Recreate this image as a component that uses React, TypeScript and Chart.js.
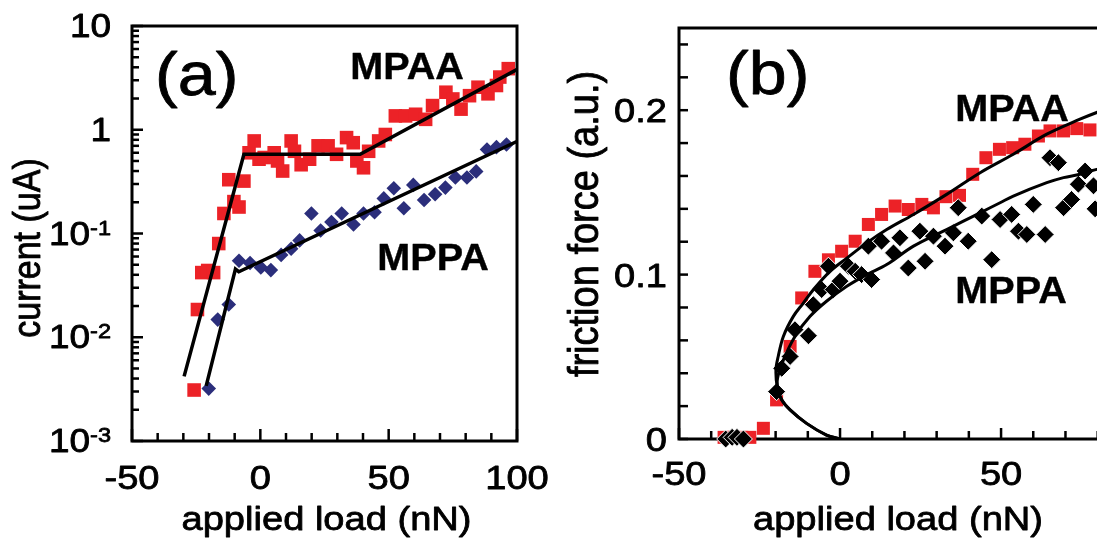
import React, { useEffect, useRef } from 'react';
import { Chart, registerables } from 'chart.js';

Chart.register(...registerables);

const SANS = '"Liberation Sans", Arial, Helvetica, sans-serif';
const SX = 1.12;
const RED = '#ec2227';
const NAVY = '#2b2e7b';

// ---------- Panel (a): current vs applied load ----------
const aMpaaX = [-25.8, -24.5, -22.8, -20.5, -18.2, -16.2, -14.2, -12.3, -10.3, -8.3, -6.4, -4.4, -2.4, -0.5, 1.5, 5.4, 6.7, 8.7, 12.0, 13.3, 15.9, 19.2, 22.5, 26.4, 29.7, 33.6, 36.2, 37.6, 40.2, 42.2, 46.1, 48.7, 52.6, 56.6, 60.5, 64.4, 67.1, 72.3, 75.0, 78.2, 81.5, 84.8, 88.7, 92.0, 93.3, 96.6];
const aMpaaY = [0.0031, 0.0185, 0.042, 0.044, 0.042, 0.08, 0.156, 0.33, 0.203, 0.18, 0.32, 0.6, 0.78, 0.52, 0.54, 0.6, 0.5, 0.4, 0.78, 0.62, 0.46, 0.52, 0.7, 0.7, 0.58, 0.84, 0.75, 0.5, 0.43, 0.62, 0.78, 0.9, 1.36, 1.36, 1.41, 1.26, 1.71, 2.3, 1.98, 1.58, 2.13, 2.57, 2.22, 2.67, 3.22, 3.88];
const aMppaX = [-20.1, -16.6, -12.3, -8.3, -4.0, 0.2, 4.1, 8.1, 12.0, 15.3, 19.9, 23.5, 27.7, 31.7, 36.3, 40.2, 44.5, 48.1, 52.0, 55.9, 59.6, 63.8, 68.1, 72.1, 76.0, 80.5, 84.1, 88.3, 92.0, 95.9];
const aMppaY = [0.0032, 0.0148, 0.0207, 0.0547, 0.052, 0.047, 0.0444, 0.0622, 0.0712, 0.0858, 0.156, 0.107, 0.129, 0.156, 0.122, 0.156, 0.16, 0.218, 0.273, 0.175, 0.294, 0.21, 0.239, 0.277, 0.347, 0.347, 0.397, 0.645, 0.68, 0.72];
const aMpaaFitX = [-29.7, -6.4, 38.9, 99.9];
const aMpaaFitY = [0.0042, 0.58, 0.58, 3.8];
const aMppaFitX = [-21.1, -9.7, -8.4, 99.9];
const aMppaFitY = [0.0034, 0.0454, 0.0428, 0.77];
const aXTickLabels = [-50, 0, 50, 100];
const aYTickValues = [0.001, 0.01, 0.1, 1, 10];
const aYTickBase = ['10', '10', '10', '1', '10'];
const aYTickExp = ['-3', '-2', '-1', '', ''];

// ---------- Panel (b): friction force vs applied load ----------
const bMpaaX = [-36, -33, -30.5, -28, -23.8, -19.7, -15.5, -11.9, -7.8, -3.6, 0.5, 4.7, 8.8, 12.9, 17.1, 21.2, 25.4, 29.0, 32.9, 37.1, 41.2, 45.3, 49.5, 53.6, 57.4, 61.6, 65.2, 69.4, 73.5, 77.6];
const bMpaaY = [0.001, 0.001, 0.001, 0.001, 0.0065, 0.0238, 0.0563, 0.0858, 0.102, 0.109, 0.1142, 0.1203, 0.1305, 0.1366, 0.1417, 0.1396, 0.1427, 0.1406, 0.1474, 0.1482, 0.161, 0.1711, 0.1762, 0.1772, 0.1793, 0.1843, 0.1874, 0.1874, 0.1888, 0.188];
const bMppaX = [-35.5, -33.5, -32, -30, -19.7, -18.1, -15.5, -14.0, -9.8, -8.3, -5.7, -3.6, -2.1, 0, 2.6, 4.7, 6.7, 9.8, 8.8, 12.9, 16.6, 18.6, 21.2, 26.4, 24.8, 29.0, 32.6, 35.2, 36.7, 39.8, 44.0, 47.1, 49.7, 53.3, 55.4, 58.0, 60.0, 63.7, 65.2, 67.8, 69.4, 71.9, 74.0, 76.1, 78.7, 79.2];
const bMppaY = [0, 0.001, 0.001, 0, 0.0288, 0.043, 0.0502, 0.0665, 0.0628, 0.0817, 0.0909, 0.1051, 0.0909, 0.096, 0.1051, 0.102, 0.1, 0.097, 0.1173, 0.1203, 0.1132, 0.1224, 0.104, 0.1081, 0.1264, 0.1234, 0.1173, 0.1254, 0.1407, 0.1203, 0.1356, 0.1091, 0.1335, 0.1366, 0.1264, 0.1244, 0.1427, 0.1244, 0.1711, 0.1681, 0.1407, 0.1457, 0.155, 0.163, 0.154, 0.14];
const bFitOuterX = [0, -4.2, -10.4, -15.5, -18.1, -19.5, -19.9, -19.2, -17.6, -14.5, -11.4, -8.3, -3.1, 2.1, 8.3, 14.5, 22.8, 33.1, 43.5, 53.8, 64.2, 74.5, 79.7, 86];
const bFitOuterY = [0, 0.0024, 0.0095, 0.0177, 0.0238, 0.032, 0.042, 0.0502, 0.0624, 0.0746, 0.0827, 0.0908, 0.102, 0.11, 0.1193, 0.1274, 0.1366, 0.1488, 0.162, 0.1732, 0.1854, 0.1945, 0.1986, 0.203];
const bFitInnerX = [0, -4.2, -10.4, -15.5, -18.1, -19.3, -19.4, -17.6, -14.0, -9.3, -4.2, 2.1, 8.3, 14.5, 22.8, 33.1, 43.5, 49.7, 53.8, 64.2, 69.4, 74.5, 79.7, 86];
const bFitInnerY = [0, 0.0024, 0.0095, 0.0177, 0.0238, 0.03, 0.037, 0.048, 0.0624, 0.0746, 0.0838, 0.0929, 0.1, 0.1061, 0.1173, 0.1274, 0.1376, 0.1437, 0.1478, 0.1559, 0.159, 0.161, 0.164, 0.166];
const bXTickLabels = [-50, 0, 50];
const bYTickValues = [0, 0.1, 0.2];
const bYTickLabels = ['0', '0.1', '0.2'];

const pts = (xs: number[], ys: number[]) => xs.map((x, i) => ({ x, y: ys[i] }));

type TxtOpts = { bold?: boolean; align?: CanvasTextAlign; baseline?: CanvasTextBaseline; sx?: number; rot?: boolean };

function txt(ctx: CanvasRenderingContext2D, s: string, x: number, y: number, size: number, o: TxtOpts = {}) {
  ctx.save();
  ctx.font = `${o.bold ? 'bold ' : ''}${size}px ${SANS}`;
  ctx.fillStyle = '#000';
  ctx.strokeStyle = '#000';
  ctx.lineWidth = o.bold ? 0.4 : 0.8;
  ctx.lineJoin = 'round';
  ctx.textAlign = o.align ?? 'center';
  ctx.textBaseline = o.baseline ?? 'alphabetic';
  ctx.translate(x, y);
  ctx.scale(o.sx ?? SX, 1);
  if (o.rot) ctx.rotate(-Math.PI / 2);
  ctx.fillText(s, 0, 0);
  ctx.strokeText(s, 0, 0);
  ctx.restore();
}

function seg(ctx: CanvasRenderingContext2D, x1: number, y1: number, x2: number, y2: number) {
  ctx.beginPath();
  ctx.moveTo(x1, y1);
  ctx.lineTo(x2, y2);
  ctx.stroke();
}

const panelAPlugin = {
  id: 'panelA',
  beforeDatasetsDraw(chart: any) {
    const { ctx, chartArea: a, scales } = chart;
    const x = scales.x, y = scales.y;
    ctx.save();
    ctx.strokeStyle = '#000';
    ctx.lineWidth = 2.5;
    for (let v = -50; v <= 100; v += 10) {
      const px = x.getPixelForValue(v);
      seg(ctx, px, a.bottom, px, a.bottom - (v % 50 === 0 ? 12 : 8));
    }
    for (let e = -3; e <= 1; e++) {
      for (let m = 1; m <= 9; m++) {
        const v = m * Math.pow(10, e);
        if (v > 10.0001) break;
        const py = y.getPixelForValue(v);
        seg(ctx, a.left, py, a.left + (m === 1 ? 11 : 7), py);
      }
    }
    ctx.lineWidth = 3;
    ctx.strokeRect(a.left, a.top, a.right - a.left, a.bottom - a.top);
    ctx.restore();
  },
  afterDraw(chart: any) {
    const { ctx, chartArea: a, scales } = chart;
    const x = scales.x, y = scales.y;
    aXTickLabels.forEach((v) => txt(ctx, String(v), x.getPixelForValue(v), a.bottom + 48, 34));
    aYTickValues.forEach((v, i) => {
      const py = y.getPixelForValue(v);
      const right = a.left - 21;
      let baseRight = right;
      if (aYTickExp[i]) {
        ctx.save();
        ctx.font = `21px ${SANS}`;
        const w = ctx.measureText(aYTickExp[i]).width * SX;
        ctx.restore();
        txt(ctx, aYTickExp[i], right, py + 1, 21, { align: 'right' });
        baseRight = right - w;
      }
      txt(ctx, aYTickBase[i], baseRight, py + 11, 33, { align: 'right' });
    });
    txt(ctx, 'applied load (nN)', (a.left + a.right) / 2 + 2, 530, 34);
    txt(ctx, 'current (uA)', 29, 248, 34, { rot: true, baseline: 'middle' });
    txt(ctx, '(a)', 155, 95, 62, { align: 'left', sx: 1.1 });
    txt(ctx, 'MPAA', 407, 79, 36, { bold: true, sx: 1.1 });
    txt(ctx, 'MPPA', 433, 270, 36, { bold: true, sx: 1.1 });
  },
};

const panelBPlugin = {
  id: 'panelB',
  beforeDatasetsDraw(chart: any) {
    const { ctx, chartArea: a, scales } = chart;
    const x = scales.x, y = scales.y;
    ctx.save();
    ctx.strokeStyle = '#000';
    ctx.lineWidth = 2.5;
    for (let v = -50; v <= 80; v += 10) {
      const px = x.getPixelForValue(v);
      seg(ctx, px, a.bottom, px, a.bottom - (v % 50 === 0 ? 11 : 8));
    }
    for (let k = 0; k <= 12; k++) {
      const py = y.getPixelForValue(k * 0.02);
      seg(ctx, a.left, py, a.left + 9, py);
    }
    ctx.lineWidth = 3;
    ctx.strokeRect(a.left, a.top, a.right - a.left, a.bottom - a.top);
    ctx.restore();
  },
  afterDraw(chart: any) {
    const { ctx, chartArea: a, scales } = chart;
    const x = scales.x, y = scales.y;
    bXTickLabels.forEach((v) => txt(ctx, String(v), x.getPixelForValue(v), a.bottom + 46, 34));
    bYTickValues.forEach((v, i) => txt(ctx, bYTickLabels[i], a.left - 12, y.getPixelForValue(v) + 12, 34, { align: 'right' }));
    txt(ctx, 'applied load (nN)', 338, 530, 34);
    txt(ctx, 'friction force (a.u.)', 26, 224, 38, { rot: true, baseline: 'middle' });
    txt(ctx, '(b)', 166, 94, 62, { align: 'left', sx: 1.1 });
    txt(ctx, 'MPAA', 452, 121, 36, { bold: true, sx: 1.1 });
    txt(ctx, 'MPPA', 451, 303, 36, { bold: true, sx: 1.1 });
  },
};

const lineDs = (data: any[], width: number, tension: number) => ({
  data,
  showLine: true,
  borderColor: '#000',
  borderWidth: width,
  pointRadius: 0,
  tension,
  fill: false,
});

const pointDs = (data: any[], style: string, r: number, color: string, border = 0, borderColor = '#fff') => ({
  data,
  showLine: false,
  pointStyle: style,
  pointRadius: r,
  backgroundColor: color,
  pointBackgroundColor: color,
  pointBorderColor: borderColor,
  pointBorderWidth: border,
  borderWidth: border,
  borderColor,
  clip: false,
});

const baseOptions = (padding: any, xs: any, ys: any) => ({
  responsive: false,
  animation: false,
  devicePixelRatio: 1,
  events: [],
  layout: { padding },
  plugins: { legend: { display: false }, tooltip: { enabled: false }, title: { display: false } },
  scales: { x: xs, y: ys },
});

export default function App() {
  const refA = useRef<HTMLCanvasElement | null>(null);
  const refB = useRef<HTMLCanvasElement | null>(null);

  useEffect(() => {
    const chartA = new Chart(refA.current as HTMLCanvasElement, {
      type: 'scatter',
      data: {
        datasets: [
          lineDs(pts(aMpaaFitX, aMpaaFitY), 3.5, 0),
          lineDs(pts(aMppaFitX, aMppaFitY), 3.5, 0),
          pointDs(pts(aMppaX, aMppaY), 'rectRot', 7.3, NAVY),
          pointDs(pts(aMpaaX, aMpaaY), 'rect', 9.6, RED),
        ] as any,
      },
      options: baseOptions(
        { left: 132, top: 26, right: 43, bottom: 109 },
        { type: 'linear', min: -50, max: 100, display: false },
        { type: 'logarithmic', min: 0.001, max: 10, display: false }
      ) as any,
      plugins: [panelAPlugin],
    });
    const chartB = new Chart(refB.current as HTMLCanvasElement, {
      type: 'scatter',
      data: {
        datasets: [
          lineDs(pts(bFitOuterX, bFitOuterY), 3, 0.35),
          lineDs(pts(bFitInnerX, bFitInnerY), 3, 0.35),
          pointDs(pts(bMppaX, bMppaY), 'rectRot', 9, '#000', 1, '#fff'),
          pointDs(pts(bMpaaX, bMpaaY), 'rect', 9.2, RED),
        ] as any,
      },
      options: baseOptions(
        { left: 119, top: 28, right: 43, bottom: 111 },
        { type: 'linear', min: -50, max: 86, display: false },
        { type: 'linear', min: 0, max: 0.25, display: false }
      ) as any,
      plugins: [panelBPlugin],
    });
    return () => {
      chartA.destroy();
      chartB.destroy();
    };
  }, []);

  return (
    <div style={{ position: 'absolute', left: 0, top: 0, width: 1097, height: 550, overflow: 'hidden', background: '#fff' }}>
      <canvas ref={refA} width={560} height={550} style={{ position: 'absolute', left: 0, top: 0, width: 560, height: 550 }} />
      <canvas ref={refB} width={600} height={550} style={{ position: 'absolute', left: 560, top: 0, width: 600, height: 550 }} />
    </div>
  );
}
